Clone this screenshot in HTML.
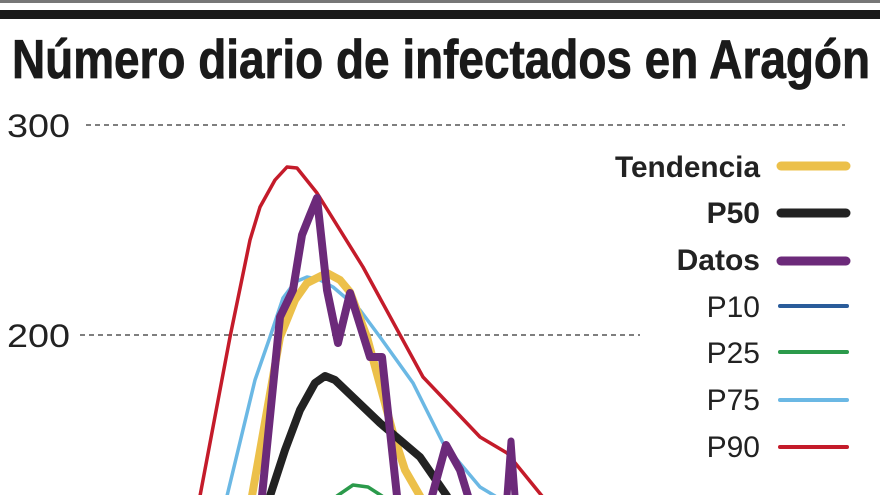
<!DOCTYPE html>
<html><head><meta charset="utf-8"><style>html,body{margin:0;padding:0;background:#fff;overflow:hidden}svg{display:block}</style></head>
<body>
<svg width="880" height="495" viewBox="0 0 880 495" xmlns="http://www.w3.org/2000/svg">
<rect x="0" y="0" width="880" height="3" fill="#777"/>
<rect x="0" y="10" width="880" height="9" fill="#1a1a1a"/>
<text x="12" y="78" font-family="Liberation Sans, sans-serif" font-weight="bold" font-size="55" fill="#1a1a1a" stroke="#1a1a1a" stroke-width="0.8" textLength="858" lengthAdjust="spacingAndGlyphs">Número diario de infectados en Aragón</text>
<g font-family="Liberation Sans, sans-serif" font-size="32" fill="#222">
<text x="7" y="137" textLength="63" lengthAdjust="spacingAndGlyphs">300</text>
<text x="7" y="347" textLength="63" lengthAdjust="spacingAndGlyphs">200</text>
</g>
<line x1="86" y1="125" x2="845" y2="125" stroke="#333" stroke-width="1.2" stroke-dasharray="5,4"/>
<line x1="80" y1="335" x2="640" y2="335" stroke="#333" stroke-width="1.2" stroke-dasharray="5,4"/>
<g fill="none" stroke-linejoin="round" stroke-linecap="round">
<path d="M200,496 L230,337 L250,240 L260,207 L275,180 L287,167 L297,168 L317,193 L363,267 L423,377 L480,437 L507,453 L542,496" stroke="#c41b2a" stroke-width="3.5"/>
<path d="M227,496 L255,380 L270,337 L283,298 L295,282 L307,277 L320,280 L333,287 L360,310 L380,337 L413,383 L443,443 L480,487 L495,496" stroke="#6bb8e4" stroke-width="3.5"/>
<path d="M252,496 L280,337 L295,300 L307,283 L327,273 L340,280 L350,292 L367,337 L393,433 L405,470 L420,496" stroke="#ecc04a" stroke-width="8"/>
<path d="M270,496 L285,450 L300,410 L315,383 L325,376 L335,380 L380,423 L420,457 L447,496" stroke="#222" stroke-width="8"/>
<path d="M337,496 L353,485 L368,487 L382,496" stroke="#2b9a4b" stroke-width="3.5"/>
<path d="M262,496 L280,317 L293,290 L302,235 L310,215 L317,198 L327,290 L338,343 L350,293 L370,357 L382,357 L397,496" stroke="#6c2a7a" stroke-width="8"/>
<path d="M432,496 L446,445 L460,470 L468,496" stroke="#6c2a7a" stroke-width="8"/>
<path d="M507,496 L511,441 L515,496" stroke="#6c2a7a" stroke-width="7"/>
</g>
<g font-family="Liberation Sans, sans-serif" font-size="30" fill="#222" text-anchor="end">
<text x="760" y="177" font-weight="bold" textLength="145" lengthAdjust="spacingAndGlyphs">Tendencia</text>
<text x="760" y="223" font-weight="bold">P50</text>
<text x="760" y="270" font-weight="bold">Datos</text>
<text x="760" y="317">P10</text>
<text x="760" y="363">P25</text>
<text x="760" y="410">P75</text>
<text x="760" y="457">P90</text>
</g>
<g stroke-linecap="round">
<line x1="781" y1="166" x2="846" y2="166" stroke="#ecc04a" stroke-width="9"/>
<line x1="781" y1="213" x2="846" y2="213" stroke="#222" stroke-width="9"/>
<line x1="781" y1="261" x2="846" y2="261" stroke="#6c2a7a" stroke-width="9"/>
<line x1="780" y1="306" x2="847" y2="306" stroke="#2a5c9a" stroke-width="4"/>
<line x1="780" y1="352" x2="847" y2="352" stroke="#2b9a4b" stroke-width="4"/>
<line x1="780" y1="400" x2="847" y2="400" stroke="#6bb8e4" stroke-width="4"/>
<line x1="780" y1="447" x2="847" y2="447" stroke="#c41b2a" stroke-width="4"/>
</g>
</svg>
</body></html>
